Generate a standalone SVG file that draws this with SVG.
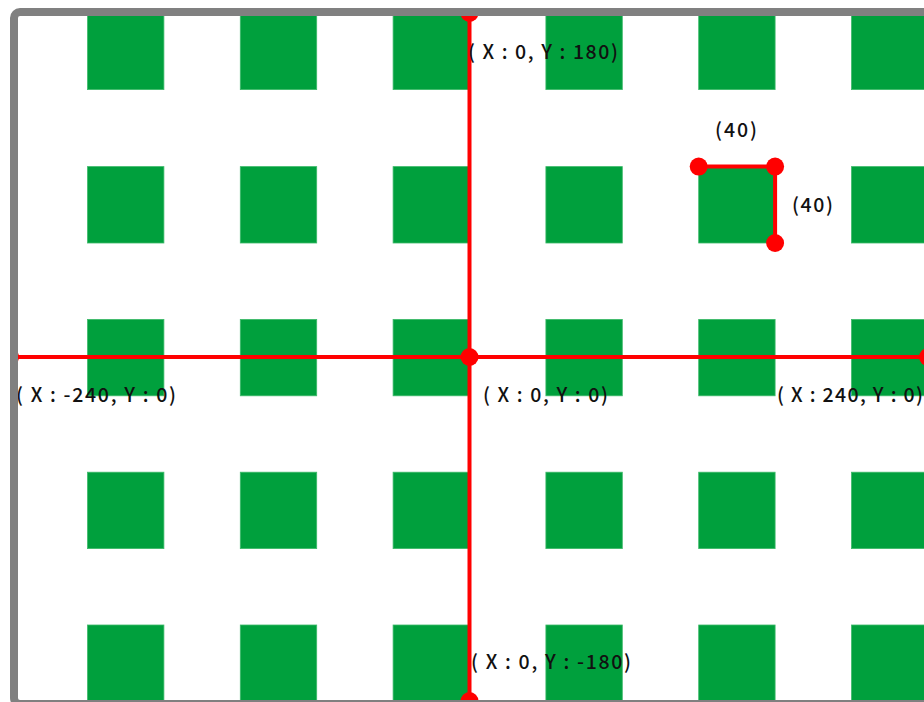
<svg xmlns="http://www.w3.org/2000/svg" width="924" height="702" viewBox="0 0 924 702">
<style>
.sq{fill:#00A03D;stroke:#3DBA6A;stroke-width:0.8}
.ax{stroke:#FF0000;stroke-width:4;fill:none}
.dot{fill:#FF0000}
.lbl{font-family:"Noto Sans CJK JP","Noto Sans",sans-serif;font-size:19.5px;font-weight:500;fill:#111}
</style>
<defs>
<clipPath id="stage"><rect x="18" y="16" width="920" height="690"/></clipPath>
</defs>
<rect x="0" y="0" width="924" height="702" fill="#FFFFFF"/>
<g clip-path="url(#stage)">
<g id="grid">
<rect class="sq" x="87.5" y="13" width="76.4" height="76.6"/>
<rect class="sq" x="240.3" y="13" width="76.4" height="76.6"/>
<rect class="sq" x="393.1" y="13" width="76.4" height="76.6"/>
<rect class="sq" x="545.9" y="13" width="76.4" height="76.6"/>
<rect class="sq" x="698.7" y="13" width="76.4" height="76.6"/>
<rect class="sq" x="851.5" y="13" width="76.4" height="76.6"/>
<rect class="sq" x="87.5" y="166.6" width="76.4" height="76.4"/>
<rect class="sq" x="240.3" y="166.6" width="76.4" height="76.4"/>
<rect class="sq" x="393.1" y="166.6" width="76.4" height="76.4"/>
<rect class="sq" x="545.9" y="166.6" width="76.4" height="76.4"/>
<rect class="sq" x="698.7" y="166.6" width="76.4" height="76.4"/>
<rect class="sq" x="851.5" y="166.6" width="76.4" height="76.4"/>
<rect class="sq" x="87.5" y="319.4" width="76.4" height="76.4"/>
<rect class="sq" x="240.3" y="319.4" width="76.4" height="76.4"/>
<rect class="sq" x="393.1" y="319.4" width="76.4" height="76.4"/>
<rect class="sq" x="545.9" y="319.4" width="76.4" height="76.4"/>
<rect class="sq" x="698.7" y="319.4" width="76.4" height="76.4"/>
<rect class="sq" x="851.5" y="319.4" width="76.4" height="76.4"/>
<rect class="sq" x="87.5" y="472.2" width="76.4" height="76.4"/>
<rect class="sq" x="240.3" y="472.2" width="76.4" height="76.4"/>
<rect class="sq" x="393.1" y="472.2" width="76.4" height="76.4"/>
<rect class="sq" x="545.9" y="472.2" width="76.4" height="76.4"/>
<rect class="sq" x="698.7" y="472.2" width="76.4" height="76.4"/>
<rect class="sq" x="851.5" y="472.2" width="76.4" height="76.4"/>
<rect class="sq" x="87.5" y="625" width="76.4" height="76.4"/>
<rect class="sq" x="240.3" y="625" width="76.4" height="76.4"/>
<rect class="sq" x="393.1" y="625" width="76.4" height="76.4"/>
<rect class="sq" x="545.9" y="625" width="76.4" height="76.4"/>
<rect class="sq" x="698.7" y="625" width="76.4" height="76.4"/>
<rect class="sq" x="851.5" y="625" width="76.4" height="76.4"/>
</g>
<g id="connectors">
<line class="ax" x1="11" y1="357" x2="928" y2="357"/>
<line class="ax" x1="469.5" y1="13" x2="469.5" y2="701"/>
<polyline class="ax" points="698.7,166.6 775.1,166.6 775.1,243"/>
</g>
<g id="points">
<circle id="p-origin" class="dot" cx="469.5" cy="357" r="9"/>
<circle id="p-top" class="dot" cx="469.5" cy="13" r="9"/>
<circle id="p-bottom" class="dot" cx="469.5" cy="701" r="9"/>
<circle id="p-left" class="dot" cx="10" cy="357" r="9"/>
<circle id="p-right" class="dot" cx="928" cy="357" r="9"/>
<circle id="p-s1" class="dot" cx="698.7" cy="166.6" r="9"/>
<circle id="p-s2" class="dot" cx="775.1" cy="166.6" r="9"/>
<circle id="p-s3" class="dot" cx="775.1" cy="243" r="9"/>
</g>
<g id="labels">
<text class="lbl" x="468" y="59" textLength="150">( X : 0, Y : 180)</text>
<text class="lbl" x="715" y="137" textLength="42">(40)</text>
<text class="lbl" x="792" y="212" textLength="41">(40)</text>
<text class="lbl" x="16" y="402" textLength="160">( X : -240, Y : 0)</text>
<text class="lbl" x="483" y="402" textLength="125">( X : 0, Y : 0)</text>
<text class="lbl" x="777" y="402" textLength="146">( X : 240, Y : 0)</text>
<text class="lbl" x="471" y="669" textLength="160">( X : 0, Y : -180)</text>
</g>
</g>
<rect id="frame" x="14" y="12" width="918" height="692" rx="6" fill="none" stroke="#808080" stroke-width="8"/>
</svg>
